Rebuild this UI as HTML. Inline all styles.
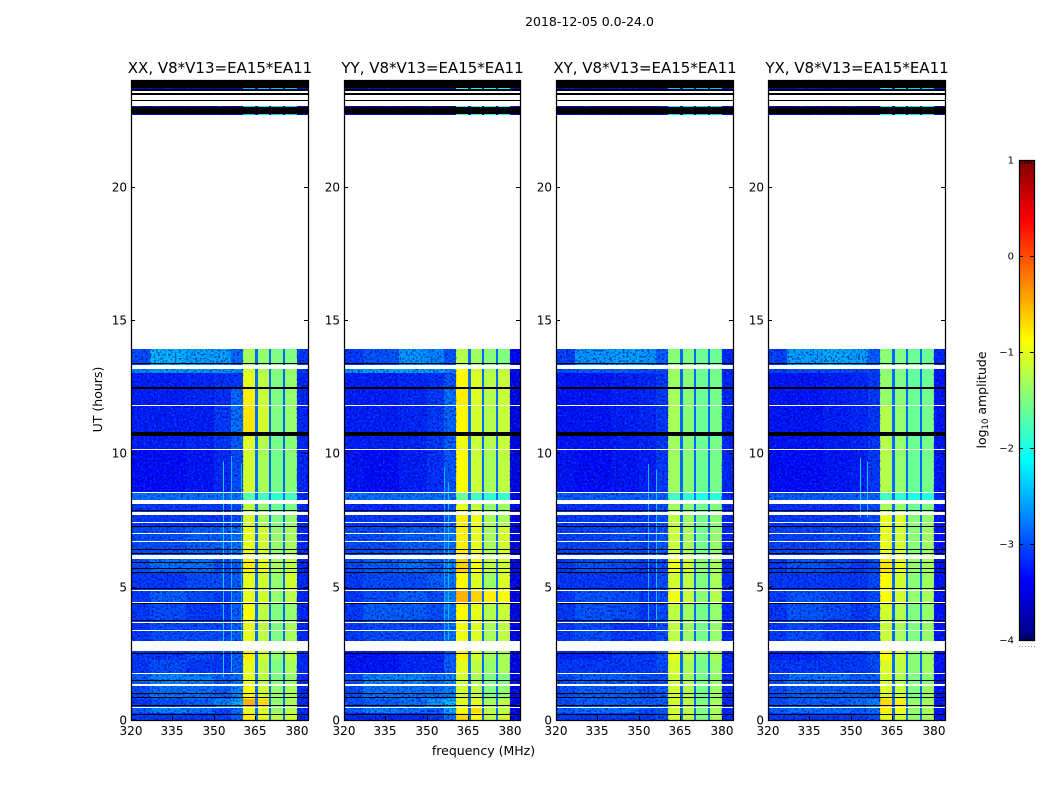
<!DOCTYPE html>
<html lang="en">
<head>
<meta charset="utf-8">
<title>2018-12-05 0.0-24.0</title>
<style>
html,body{margin:0;padding:0;background:#fff;}
#stage{display:block;width:1050px;height:800px;font-family:"DejaVu Sans","Liberation Sans",sans-serif;}
text{fill:#000;}
</style>
</head>
<body>
<svg id="stage" xmlns="http://www.w3.org/2000/svg" width="1050" height="800" viewBox="0 0 1050 800">
  <defs>
    <filter id="speckleLight" x="0" y="0" width="100%" height="100%" color-interpolation-filters="sRGB">
      <feTurbulence type="fractalNoise" baseFrequency="0.48" numOctaves="2" seed="4"/>
      <feColorMatrix type="matrix" values="0 0 0 0 0  0 0 0 0 0.55  0 0 0 0 1  3.6 0 0 0 -1.72"/>
    </filter>
    <filter id="speckleDark" x="0" y="0" width="100%" height="100%" color-interpolation-filters="sRGB">
      <feTurbulence type="fractalNoise" baseFrequency="0.48" numOctaves="2" seed="11"/>
      <feColorMatrix type="matrix" values="0 0 0 0 0  0 0 0 0 0  0 0 0 0 0.55  3.6 0 0 0 -1.72"/>
    </filter>
  </defs>
  <g id="panels"></g>
  <g id="colorbar"></g>
  <text x="589.5" y="26" font-size="12.5" text-anchor="middle">2018-12-05 0.0-24.0</text>
  <text x="483.5" y="755" font-size="12.5" text-anchor="middle">frequency (MHz)</text>
  <text x="0" y="0" font-size="12.5" text-anchor="middle" transform="translate(102,399.5) rotate(-90)">UT (hours)</text>
  <text x="0" y="0" font-size="12.5" text-anchor="middle" transform="translate(986,400) rotate(-90)">log<tspan font-size="8.5" dy="2">10</tspan><tspan dy="-2"> amplitude</tspan></text>
</svg>
<script>
// ---------- data ----------
const panelTitles = ["XX, V8*V13=EA15*EA11", "YY, V8*V13=EA15*EA11", "XY, V8*V13=EA15*EA11", "YX, V8*V13=EA15*EA11"];
const xTickLabels = [320, 335, 350, 365, 380];
const yTickLabels = [0, 5, 10, 15, 20];
const colorbarTickLabels = [-4, -3, -2, -1, 0, 1];
// frequency bin edges (MHz)
const freqEdges = [320, 327, 340, 350, 356, 360.5, 364.8, 365.8, 369.8, 370.8, 374.8, 375.8, 380, 384];
// time bin edges (hours)
const timeEdges = [0, .25, .5, .8, 1.3, 1.75, 2.25, 2.95, 3.65, 4.38, 4.85, 5.5, 6.2, 7.25, 7.8, 8.25, 8.55, 10.15, 10.8, 11.8, 12.45, 13.0, 13.33, 13.91, 22.69, 23.03, 23.65, 24];
// flagged (no-data) intervals in hours
const whiteFlags = [[.46,.5],[1.29,1.36],[1.74,1.78],[2.58,2.95],[3.35,3.39],[3.64,3.68],[4.38,4.42],[4.84,4.88],[6.05,6.2],[6.67,6.71],[6.99,7.03],[7.39,7.43],[7.67,7.8],[8.1,8.25],[8.52,8.56],[10.13,10.17],[11.79,11.83],[13.16,13.33],[13.91,22.69],[23.03,23.2],[23.25,23.45],[23.5,23.6]];
const blackFlags = [[.2,.23],[.52,.56],[.85,.88],[.97,1.0],[1.46,1.5],[2.48,2.52],[3.72,3.76],[4.34,4.38],[4.9,4.94],[5.51,5.55],[5.65,5.7],[5.88,5.92],[6.22,6.26],[6.37,6.41],[7.23,7.28],[7.85,7.89],[10.65,10.8],[12.41,12.47],[13.36,13.4],[22.72,22.98],[23.2,23.25],[23.45,23.5],[23.6,23.65],[23.7,23.95]];
// per-panel log10 amplitude, one row per time bin, one value per frequency bin
const xxValues = [
 [-3.1,-3.1,-3.1,-3.1,-2.9,-0.8,-2.85,-1.0,-2.85,-1.2,-2.85,-1.1,-3.2],
 [-2.9,-2.7,-2.8,-3.0,-2.8,-1.0,-2.85,-1.1,-2.85,-1.4,-2.85,-1.2,-3.2],
 [-3.1,-3.0,-2.9,-2.7,-2.5,-0.5,-2.85,-0.7,-2.85,-1.4,-2.85,-1.3,-3.2],
 [-3.0,-2.8,-2.8,-2.9,-2.7,-0.9,-2.85,-1.1,-2.85,-1.4,-2.85,-1.3,-3.2],
 [-2.9,-2.7,-2.7,-2.9,-2.8,-1.0,-2.85,-1.2,-2.85,-1.5,-2.85,-1.4,-3.2],
 [-3.1,-3.0,-3.1,-3.1,-2.9,-1.0,-2.85,-1.2,-2.85,-1.5,-2.85,-1.3,-3.2],
 [-3.1,-3.1,-3.0,-3.1,-2.9,-0.8,-2.85,-1.1,-2.85,-1.4,-2.85,-1.2,-3.2],
 [-3.1,-3.0,-3.0,-3.0,-2.9,-1.0,-2.85,-1.2,-2.85,-1.5,-2.85,-1.3,-3.2],
 [-3.1,-3.0,-3.1,-3.1,-2.9,-0.9,-2.85,-1.2,-2.85,-1.5,-2.85,-1.4,-3.2],
 [-3.1,-2.9,-3.0,-3.1,-2.9,-1.0,-2.85,-1.1,-2.85,-1.4,-2.85,-1.2,-3.2],
 [-3.1,-3.1,-3.0,-3.0,-2.9,-1.0,-2.85,-1.1,-2.85,-1.4,-2.85,-1.1,-3.2],
 [-3.0,-2.8,-2.8,-3.0,-2.9,-0.8,-2.85,-1.0,-2.85,-1.3,-2.85,-1.2,-3.2],
 [-3.0,-3.0,-2.9,-2.9,-2.8,-1.0,-2.85,-1.1,-2.85,-1.4,-2.85,-1.3,-3.2],
 [-3.1,-3.1,-3.1,-3.1,-3.0,-1.1,-2.85,-1.3,-2.85,-1.5,-2.85,-1.4,-3.2],
 [-3.1,-3.1,-3.1,-3.1,-3.0,-1.2,-2.85,-1.4,-2.85,-1.6,-2.85,-1.5,-3.2],
 [-2.8,-2.8,-2.8,-2.8,-2.8,-1.7,-2.85,-1.8,-2.85,-1.9,-2.85,-1.8,-3.2],
 [-3.35,-3.35,-3.3,-3.2,-3.0,-1.1,-2.85,-1.3,-2.85,-1.55,-2.85,-1.45,-3.2],
 [-3.25,-3.25,-3.2,-3.1,-2.9,-1.05,-2.85,-1.25,-2.85,-1.55,-2.85,-1.45,-3.2],
 [-3.25,-3.25,-3.25,-3.1,-2.8,-0.75,-2.85,-1.1,-2.85,-1.5,-2.85,-1.4,-3.2],
 [-3.25,-3.25,-3.2,-3.15,-2.85,-0.8,-2.85,-1.15,-2.85,-1.5,-2.85,-1.4,-3.2],
 [-3.25,-3.25,-3.2,-3.15,-3.1,-1.0,-2.85,-1.2,-2.85,-1.5,-2.85,-1.4,-3.2],
 [-2.7,-2.6,-2.6,-2.6,-2.7,-1.1,-2.85,-1.3,-2.85,-1.5,-2.85,-1.4,-3.1],
 [-3.0,-2.45,-2.55,-2.55,-2.85,-1.3,-2.85,-1.4,-2.85,-1.5,-2.85,-1.5,-3.1],
 [null,null,null,null,null,null,null,null,null,null,null,null,null],
 [-3.6,-3.6,-3.6,-3.6,-3.6,-2.3,-3.4,-2.2,-3.4,-2.3,-3.4,-2.3,-3.6],
 [null,null,null,null,null,null,null,null,null,null,null,null,null],
 [-3.6,-3.6,-3.6,-3.6,-3.6,-2.5,-3.4,-2.4,-3.4,-2.4,-3.4,-2.4,-3.6]
];
const yyValues = [
 [-3.2,-3.2,-3.2,-3.1,-2.8,-0.7,-2.85,-0.9,-2.85,-1.2,-2.85,-1.1,-3.5],
 [-2.9,-2.7,-2.8,-2.9,-2.5,-0.9,-2.85,-0.7,-2.85,-1.2,-2.85,-1.2,-3.5],
 [-3.0,-2.9,-2.8,-2.6,-2.4,-1.0,-2.85,-1.0,-2.85,-1.3,-2.85,-1.2,-3.5],
 [-3.0,-2.8,-2.8,-2.8,-2.7,-1.1,-2.85,-1.2,-2.85,-1.5,-2.85,-1.4,-3.5],
 [-3.0,-2.7,-2.7,-2.8,-2.7,-1.1,-2.85,-1.3,-2.85,-1.5,-2.85,-1.5,-3.5],
 [-3.3,-3.3,-3.2,-3.2,-2.9,-1.0,-2.85,-1.2,-2.85,-1.4,-2.85,-1.3,-3.5],
 [-3.3,-3.3,-3.2,-3.2,-2.9,-0.8,-2.85,-1.1,-2.85,-1.3,-2.85,-1.3,-3.5],
 [-3.1,-3.0,-3.0,-3.0,-2.8,-0.95,-2.85,-1.05,-2.85,-1.3,-2.85,-1.2,-3.5],
 [-3.1,-2.9,-2.9,-3.0,-2.8,-0.85,-2.85,-1.0,-2.85,-1.25,-2.85,-1.15,-3.5],
 [-3.1,-3.0,-2.9,-3.0,-2.7,-0.5,-2.85,-0.65,-2.85,-0.8,-2.85,-0.9,-3.5],
 [-3.1,-3.0,-3.0,-2.9,-2.8,-0.85,-2.85,-1.05,-2.85,-1.35,-2.85,-1.05,-3.5],
 [-3.0,-2.9,-2.8,-2.9,-2.7,-0.65,-2.85,-0.9,-2.85,-1.2,-2.85,-1.1,-3.5],
 [-3.0,-3.0,-2.9,-2.9,-2.8,-0.8,-2.85,-1.0,-2.85,-1.3,-2.85,-1.1,-3.5],
 [-3.1,-3.1,-3.1,-3.1,-2.9,-0.8,-2.85,-0.95,-2.85,-1.3,-2.85,-1.3,-3.5],
 [-3.2,-3.2,-3.1,-3.1,-3.0,-1.0,-2.85,-1.15,-2.85,-1.4,-2.85,-1.35,-3.5],
 [-2.8,-2.8,-2.8,-2.8,-2.8,-1.6,-2.85,-1.8,-2.85,-1.9,-2.85,-1.85,-3.5],
 [-3.3,-3.35,-3.25,-3.15,-2.95,-0.9,-2.85,-1.15,-2.85,-1.3,-2.85,-1.2,-3.5],
 [-3.25,-3.25,-3.2,-3.1,-2.9,-0.95,-2.85,-1.15,-2.85,-1.25,-2.85,-1.15,-3.5],
 [-3.25,-3.25,-3.2,-3.1,-2.85,-0.85,-2.85,-1.1,-2.85,-1.25,-2.85,-1.15,-3.5],
 [-3.25,-3.25,-3.2,-3.1,-2.8,-0.8,-2.85,-1.05,-2.85,-1.25,-2.85,-1.15,-3.5],
 [-3.25,-3.25,-3.2,-3.15,-2.95,-0.85,-2.85,-1.05,-2.85,-1.2,-2.85,-1.15,-3.5],
 [-2.65,-2.55,-2.55,-2.6,-2.7,-0.9,-2.85,-1.1,-2.85,-1.3,-2.85,-1.2,-3.4],
 [-3.1,-2.95,-2.6,-2.7,-2.95,-1.25,-2.85,-1.35,-2.85,-1.45,-2.85,-1.5,-3.4],
 [null,null,null,null,null,null,null,null,null,null,null,null,null],
 [-3.6,-3.6,-3.6,-3.6,-3.6,-1.9,-3.4,-1.9,-3.4,-2.0,-3.4,-2.0,-3.6],
 [null,null,null,null,null,null,null,null,null,null,null,null,null],
 [-3.6,-3.6,-3.6,-3.6,-3.6,-2.0,-3.4,-2.1,-3.4,-2.1,-3.4,-2.1,-3.6]
];
const xyValues = [
 [-3.1,-3.1,-3.1,-3.1,-3.0,-1.1,-2.85,-1.2,-2.85,-1.5,-2.85,-1.3,-3.2],
 [-2.9,-2.8,-2.8,-3.0,-2.9,-1.1,-2.85,-1.2,-2.85,-1.5,-2.85,-1.3,-3.2],
 [-3.0,-2.9,-2.9,-2.9,-2.9,-1.1,-2.85,-1.2,-2.85,-1.5,-2.85,-1.3,-3.2],
 [-3.0,-2.9,-2.9,-3.0,-2.9,-1.1,-2.85,-1.25,-2.85,-1.55,-2.85,-1.35,-3.2],
 [-3.0,-2.9,-2.9,-3.0,-3.0,-1.15,-2.85,-1.3,-2.85,-1.55,-2.85,-1.4,-3.2],
 [-3.1,-3.1,-3.1,-3.1,-3.0,-1.1,-2.85,-1.3,-2.85,-1.55,-2.85,-1.4,-3.2],
 [-3.2,-3.2,-3.1,-3.1,-3.0,-1.0,-2.85,-1.2,-2.85,-1.5,-2.85,-1.3,-3.2],
 [-3.1,-3.0,-3.1,-3.1,-3.0,-1.2,-2.85,-1.35,-2.85,-1.55,-2.85,-1.4,-3.2],
 [-3.1,-2.95,-3.0,-3.1,-3.0,-1.2,-2.85,-1.35,-2.85,-1.55,-2.85,-1.4,-3.2],
 [-3.1,-2.95,-3.0,-3.1,-3.0,-0.95,-2.85,-1.15,-2.85,-1.45,-2.85,-1.25,-3.2],
 [-3.1,-3.1,-3.1,-3.1,-3.0,-1.1,-2.85,-1.2,-2.85,-1.5,-2.85,-1.3,-3.2],
 [-3.1,-2.95,-3.0,-3.1,-3.0,-0.95,-2.85,-1.1,-2.85,-1.45,-2.85,-1.3,-3.2],
 [-3.05,-3.05,-3.0,-3.05,-2.95,-1.15,-2.85,-1.3,-2.85,-1.55,-2.85,-1.4,-3.2],
 [-3.1,-3.1,-3.1,-3.1,-3.0,-1.2,-2.85,-1.35,-2.85,-1.55,-2.85,-1.45,-3.2],
 [-3.15,-3.15,-3.15,-3.1,-3.0,-1.35,-2.85,-1.45,-2.85,-1.6,-2.85,-1.5,-3.2],
 [-2.9,-2.9,-2.9,-2.9,-2.9,-1.8,-2.85,-1.9,-2.85,-2.0,-2.85,-1.95,-3.2],
 [-3.3,-3.35,-3.3,-3.25,-3.1,-1.35,-2.85,-1.45,-2.85,-1.6,-2.85,-1.55,-3.2],
 [-3.3,-3.3,-3.25,-3.2,-3.1,-1.35,-2.85,-1.45,-2.85,-1.6,-2.85,-1.55,-3.2],
 [-3.3,-3.3,-3.25,-3.2,-3.1,-1.3,-2.85,-1.45,-2.85,-1.6,-2.85,-1.55,-3.2],
 [-3.3,-3.3,-3.25,-3.2,-3.1,-1.3,-2.85,-1.45,-2.85,-1.6,-2.85,-1.55,-3.2],
 [-3.3,-3.3,-3.25,-3.2,-3.1,-1.35,-2.85,-1.45,-2.85,-1.6,-2.85,-1.55,-3.2],
 [-3.0,-2.9,-2.9,-3.0,-3.0,-1.35,-2.85,-1.45,-2.85,-1.6,-2.85,-1.55,-3.2],
 [-3.05,-2.6,-2.55,-2.6,-2.9,-1.45,-2.85,-1.5,-2.85,-1.6,-2.85,-1.6,-3.2],
 [null,null,null,null,null,null,null,null,null,null,null,null,null],
 [-3.6,-3.6,-3.6,-3.6,-3.6,-2.2,-3.4,-2.2,-3.4,-2.3,-3.4,-2.3,-3.6],
 [null,null,null,null,null,null,null,null,null,null,null,null,null],
 [-3.6,-3.6,-3.6,-3.6,-3.6,-2.4,-3.4,-2.4,-3.4,-2.4,-3.4,-2.4,-3.6]
];
const yxValues = [
 [-3.1,-3.1,-3.1,-3.1,-3.0,-1.0,-2.85,-1.1,-2.85,-1.4,-2.85,-1.3,-3.3],
 [-2.9,-2.8,-2.8,-2.9,-2.8,-0.8,-2.85,-0.95,-2.85,-1.4,-2.85,-1.3,-3.3],
 [-3.0,-2.9,-2.9,-2.8,-2.7,-0.7,-2.85,-0.8,-2.85,-1.4,-2.85,-1.3,-3.3],
 [-3.0,-2.9,-2.9,-2.9,-2.9,-1.05,-2.85,-1.15,-2.85,-1.5,-2.85,-1.35,-3.3],
 [-3.0,-2.8,-2.8,-2.9,-2.9,-1.1,-2.85,-1.25,-2.85,-1.5,-2.85,-1.45,-3.3],
 [-3.1,-3.1,-3.1,-3.1,-3.0,-1.05,-2.85,-1.2,-2.85,-1.45,-2.85,-1.35,-3.3],
 [-3.2,-3.2,-3.1,-3.1,-3.0,-0.9,-2.85,-1.15,-2.85,-1.45,-2.85,-1.35,-3.3],
 [-3.1,-3.0,-3.1,-3.1,-3.0,-1.15,-2.85,-1.3,-2.85,-1.5,-2.85,-1.4,-3.3],
 [-3.1,-2.95,-3.0,-3.1,-3.0,-1.1,-2.85,-1.25,-2.85,-1.5,-2.85,-1.4,-3.3],
 [-3.1,-2.95,-3.0,-3.1,-3.0,-0.9,-2.85,-1.1,-2.85,-1.4,-2.85,-1.3,-3.3],
 [-3.1,-3.1,-3.1,-3.1,-3.0,-0.9,-2.85,-1.1,-2.85,-1.45,-2.85,-1.35,-3.3],
 [-3.1,-2.95,-3.0,-3.1,-3.0,-0.75,-2.85,-1.0,-2.85,-1.4,-2.85,-1.3,-3.3],
 [-3.05,-3.05,-3.0,-3.05,-2.95,-1.0,-2.85,-1.1,-2.85,-1.45,-2.85,-1.35,-3.3],
 [-3.1,-3.1,-3.1,-3.1,-3.0,-1.0,-2.85,-1.05,-2.85,-1.45,-2.85,-1.4,-3.3],
 [-3.15,-3.15,-3.15,-3.1,-3.0,-1.3,-2.85,-1.4,-2.85,-1.6,-2.85,-1.5,-3.3],
 [-2.9,-2.9,-2.9,-2.9,-2.9,-1.8,-2.85,-1.9,-2.85,-2.0,-2.85,-1.95,-3.2],
 [-3.35,-3.35,-3.3,-3.25,-3.1,-1.25,-2.85,-1.4,-2.85,-1.6,-2.85,-1.55,-3.3],
 [-3.3,-3.3,-3.25,-3.2,-3.1,-1.25,-2.85,-1.4,-2.85,-1.6,-2.85,-1.55,-3.3],
 [-3.3,-3.3,-3.25,-3.2,-3.1,-1.25,-2.85,-1.4,-2.85,-1.6,-2.85,-1.55,-3.3],
 [-3.3,-3.3,-3.25,-3.2,-3.1,-1.4,-2.85,-1.45,-2.85,-1.6,-2.85,-1.55,-3.3],
 [-3.3,-3.3,-3.25,-3.2,-3.1,-1.4,-2.85,-1.5,-2.85,-1.65,-2.85,-1.6,-3.3],
 [-3.05,-3.0,-3.0,-3.05,-3.05,-1.45,-2.85,-1.5,-2.85,-1.65,-2.85,-1.6,-3.3],
 [-3.05,-2.55,-2.5,-2.55,-2.9,-1.45,-2.85,-1.5,-2.85,-1.6,-2.85,-1.6,-3.2],
 [null,null,null,null,null,null,null,null,null,null,null,null,null],
 [-3.6,-3.6,-3.6,-3.6,-3.6,-2.1,-3.4,-2.1,-3.4,-2.2,-3.4,-2.2,-3.6],
 [null,null,null,null,null,null,null,null,null,null,null,null,null],
 [-3.6,-3.6,-3.6,-3.6,-3.6,-2.2,-3.4,-2.2,-3.4,-2.3,-3.4,-2.3,-3.6]
];
// narrow interference lines: frequency (MHz), start hour, end hour, log10 amplitude
const xxSpikes = [[353.4,1.6,9.7,-2.35],[356,1.8,9.9,-2.45],[359.6,3.0,9.6,-2.5]];
const yySpikes = [[356,3.0,9.5,-2.5],[357.6,3.0,8.9,-2.45]];
const xySpikes = [[353.3,3.5,9.6,-2.45],[356,3.5,9.4,-2.4]];
const yxSpikes = [[353.3,7.6,9.8,-2.35],[355.9,7.6,9.7,-2.45]];

const panelValues = [xxValues, yyValues, xyValues, yxValues];
const panelSpikes = [xxSpikes, yySpikes, xySpikes, yxSpikes];
const panelKeys = ["xx", "yy", "xy", "yx"];

// ---------- layout & scales ----------
const axesLeft = [131, 344, 556, 768];
const axesWidths = [177, 176, 177, 177];
const axesTop = 80, axesBottom = 720;
const freqMin = 320, freqMax = 384, hourMin = 0, hourMax = 24;
const cbarLeft = 1019, cbarWidth = 15, cbarTop = 160, cbarBottom = 640, valMin = -4, valMax = 1;
const NS = "http://www.w3.org/2000/svg";
function xScale(left, f) { return left + (f - freqMin) / (freqMax - freqMin) * 177; }
function yScale(h) { return axesBottom - (h - hourMin) / (hourMax - hourMin) * (axesBottom - axesTop); }
function cScale(v) { return cbarBottom - (v - valMin) / (valMax - valMin) * (cbarBottom - cbarTop); }
function clamp01(t) { return Math.max(0, Math.min(1, t)); }
function jet(v) {
  const t = clamp01((v - valMin) / (valMax - valMin));
  const r = clamp01(1.5 - Math.abs(4 * t - 3));
  const g = clamp01(1.5 - Math.abs(4 * t - 2));
  const b = clamp01(1.5 - Math.abs(4 * t - 1));
  return "rgb(" + Math.round(r * 255) + "," + Math.round(g * 255) + "," + Math.round(b * 255) + ")";
}
function make(tag, parent, attrs, txt) {
  const el = document.createElementNS(NS, tag);
  for (const k in attrs) el.setAttribute(k, attrs[k]);
  if (txt !== undefined) el.textContent = txt;
  parent.appendChild(el);
  return el;
}
function crispRow(parent, left, width, h0, h1, fill) {
  const yTop = Math.round(yScale(h1));
  const yBot = Math.round(yScale(h0));
  return make("rect", parent, {x: left, y: yTop, width: width, height: Math.max(1, yBot - yTop), fill: fill, "shape-rendering": "crispEdges"});
}

// ---------- panels ----------
const panelsRoot = document.getElementById("panels");
panelKeys.forEach(function (key, p) {
  const left = axesLeft[p];
  const axesWidth = axesWidths[p];
  const g = make("g", panelsRoot, {});
  
  

  // heatmap cells
  const cells = make("g", g, {});
  
  
  panelValues[p].forEach(function (row, r) {
    row.forEach(function (val, c) {
      if (val === null) return;
      const x0 = Math.round(xScale(left, freqEdges[c]));
      const x1 = Math.min(left + axesWidth, Math.round(xScale(left, freqEdges[c + 1])));
      const y0 = Math.round(yScale(timeEdges[r + 1]));
      const y1 = Math.round(yScale(timeEdges[r]));
      const cell = make("rect", cells, {x: x0, y: y0, width: x1 - x0, height: y1 - y0, fill: jet(val), "shape-rendering": "crispEdges"});
      
      
    });
  });

  // background speckle texture outside the bright band
  const bandStart = xScale(left, freqEdges[5]);
  const bandEnd = xScale(left, freqEdges[12]);
  [[left, bandStart - left], [bandEnd, left + axesWidth - bandEnd]].forEach(function (span) {
    make("rect", g, {x: span[0], y: axesTop, width: span[1], height: axesBottom - axesTop, filter: "url(#speckleLight)", opacity: 0.38});
    make("rect", g, {x: span[0], y: axesTop, width: span[1], height: axesBottom - axesTop, filter: "url(#speckleDark)", opacity: 0.7});
  });

  // narrow spectral lines
  panelSpikes[p].forEach(function (s) {
    const y0 = yScale(s[2]);
    const y1 = yScale(s[1]);
    const line = make("rect", g, {x: Math.round(xScale(left, s[0])), y: y0, width: 1, height: y1 - y0, fill: jet(s[3]), "shape-rendering": "crispEdges"});
    
    
  });

  // flagged rows
  whiteFlags.forEach(function (f) {
    const rect = crispRow(g, left, axesWidth, f[0], f[1], "#ffffff");
    
    
  });
  blackFlags.forEach(function (f) {
    const rect = crispRow(g, left, axesWidth, f[0], f[1], "#000000");
    
    
  });

  // frame
  const frame = make("rect", g, {x: left + 0.5, y: axesTop + 0.5, width: axesWidth, height: axesBottom - axesTop, fill: "none", stroke: "#000", "stroke-width": 1.25});
  
  

  // x ticks
  xTickLabels.forEach(function (t) {
    const x = Math.round(xScale(left, t));
    const tb = make("line", g, {x1: x + .5, x2: x + .5, y1: axesBottom, y2: axesBottom - 4, stroke: "#000"});
    
    
    const tt = make("line", g, {x1: x + .5, x2: x + .5, y1: axesTop, y2: axesTop + 4, stroke: "#000"});
    
    
    const lab = make("text", g, {x: x, y: 735, "font-size": 12, "text-anchor": "middle"}, String(t));
    
    
  });

  // y ticks
  yTickLabels.forEach(function (t) {
    const y = Math.round(yScale(t));
    const tl = make("line", g, {x1: left, x2: left + 4, y1: y + .5, y2: y + .5, stroke: "#000"});
    
    
    const tr = make("line", g, {x1: left + axesWidth, x2: left + axesWidth - 4, y1: y + .5, y2: y + .5, stroke: "#000"});
    
    
    const lab = make("text", g, {x: left - 4, y: y + 4.5, "font-size": 12, "text-anchor": "end"}, String(t));
    
    
  });

  // title
  const title = make("text", g, {x: left + axesWidth / 2 + 0.5, y: 73, "font-size": 15, "text-anchor": "middle"}, panelTitles[p]);
  
  
});

// ---------- colorbar ----------
const cbar = document.getElementById("colorbar");


const cbarSteps = cbarBottom - cbarTop;
for (let i = 0; i < cbarSteps; i++) {
  const v = valMin + (i + 0.5) / cbarSteps * (valMax - valMin);
  make("rect", cbar, {x: cbarLeft, y: cbarBottom - i - 1, width: cbarWidth + 1, height: 1, fill: jet(v), "shape-rendering": "crispEdges"});
}
const cbarFrame = make("rect", cbar, {x: cbarLeft + 0.5, y: cbarTop + 0.5, width: cbarWidth, height: cbarBottom - cbarTop, fill: "none", stroke: "#000", "stroke-width": 1.25});


colorbarTickLabels.forEach(function (v) {
  const y = Math.round(cScale(v));
  if (v > valMin && v < valMax) {
    const a = make("line", cbar, {x1: cbarLeft, x2: cbarLeft + 4, y1: y + .5, y2: y + .5, stroke: "#000"});
    
    
    const b = make("line", cbar, {x1: cbarLeft + cbarWidth, x2: cbarLeft + cbarWidth - 4, y1: y + .5, y2: y + .5, stroke: "#000"});
    
    
  } else {
    const end = v === valMax ? 1 : -1;
    for (let k = 1; k < 5; k++) {
      const tx = cbarLeft + k * cbarWidth / 5;
      const m = make("line", cbar, {x1: tx, x2: tx, y1: y, y2: y + end * 4, stroke: "#000", "stroke-width": 0.8});
      
      
    }
  }
  const lab = make("text", cbar, {x: 1014, y: y + 3.5, "font-size": 10, "text-anchor": "end"}, (v < 0 ? "\u2212" + Math.abs(v) : String(v)));
  
  
});
for (let k = 0; k < 6; k++) {
  const dot = make("rect", cbar, {x: cbarLeft + k * 3, y: 646, width: 1, height: 1, fill: "#999"});
  
  
}
</script>
</body>
</html>
